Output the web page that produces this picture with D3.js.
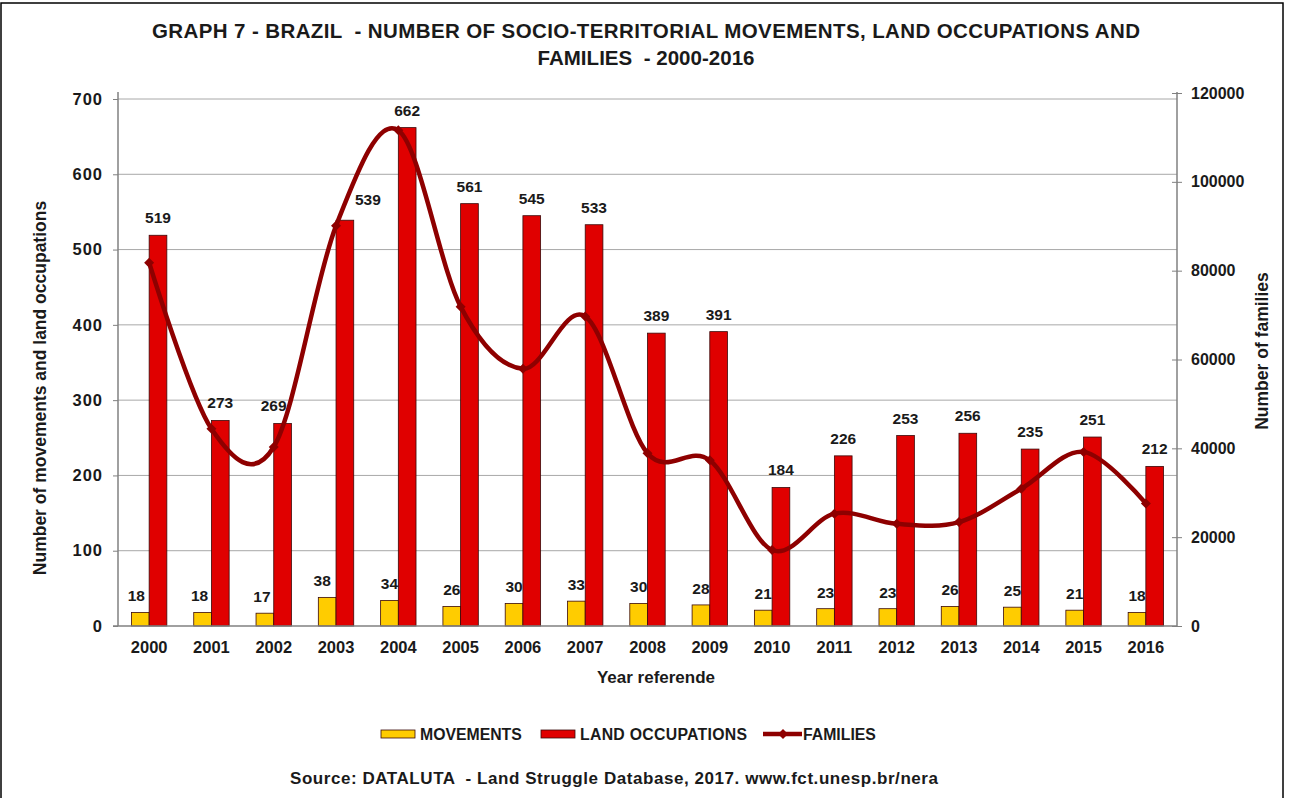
<!DOCTYPE html>
<html>
<head>
<meta charset="utf-8">
<script src="https://cdn.jsdelivr.net/npm/d3@7/dist/d3.min.js"></script>
<style>
  html, body { margin: 0; padding: 0; background: #fff; }
  svg { display: block; }
  text { font-family: "Liberation Sans", Arial, sans-serif; fill: #1a1a1a; white-space: pre; }
</style>
</head>
<body>
<svg id="chart" width="1290" height="798"></svg>
<script>
// Brazil: socio-territorial movements, land occupations and families, 2000-2016
const years = ["2000","2001","2002","2003","2004","2005","2006","2007","2008",
               "2009","2010","2011","2012","2013","2014","2015","2016"];
const movements = [18, 18, 17, 38, 34, 26, 30, 33, 30, 28, 21, 23, 23, 26, 25, 21, 18];
const occupations = [519, 273, 269, 539, 662, 561, 545, 533, 389, 391, 184, 226, 253, 256, 235, 251, 212];
const families = [81800, 44400, 40300, 90100, 111600, 71900, 57900, 69700, 38900,
                  37300, 17100, 25300, 23000, 23400, 30900, 39200, 27600];
const leftTicks = [0, 100, 200, 300, 400, 500, 600, 700];
const rightTicks = [0, 20000, 40000, 60000, 80000, 100000, 120000];
const seriesNames = ["MOVEMENTS", "LAND OCCUPATIONS", "FAMILIES"];

const COLORS = { mov: "#ffcc00", occ: "#e00000", fam: "#8e0000", barEdge: "#3a0a0a" };

const svg = d3.select("#chart");

// frame
svg.append("rect").attr("x", 1).attr("y", 3).attr("width", 1282).attr("height", 800)
  .attr("fill", "none").attr("stroke", "#000").attr("stroke-width", 1.5);

const plot = { left: 118, right: 1177, top: 92, bottom: 626 };

const x = d3.scaleBand().domain(years).range([plot.left, plot.right]).padding(0);
const barW = 17.7;
const sub = d3.scaleBand().domain(["mov", "occ"])
  .range([x.bandwidth() / 2 - barW, x.bandwidth() / 2 + barW]).padding(0);
const yL = d3.scaleLinear().domain([0, 700]).range([plot.bottom, 99]);
const yR = d3.scaleLinear().domain([0, 120000]).range([plot.bottom, 93]);

// gridlines
svg.append("g").selectAll("line").data(leftTicks.filter(d => d > 0)).join("line")
  .attr("x1", plot.left).attr("x2", plot.right)
  .attr("y1", d => yL(d)).attr("y2", d => yL(d))
  .attr("stroke", "#a8a8a8").attr("stroke-width", 1);

// left axis
const axL = svg.append("g").attr("transform", `translate(${plot.left},0)`)
  .call(d3.axisLeft(yL).tickValues(leftTicks).tickSize(5).tickPadding(10).tickSizeOuter(0));
axL.select(".domain").remove();
axL.selectAll(".tick line").attr("stroke", "#808080");
axL.selectAll(".tick text").style("font-size", "16.5px").style("font-weight", "bold")
  .style("letter-spacing", "1px").attr("fill", "#1a1a1a");
svg.append("line").attr("x1", plot.left).attr("x2", plot.left)
  .attr("y1", plot.top).attr("y2", plot.bottom).attr("stroke", "#808080").attr("stroke-width", 1.5);

// right axis
const axR = svg.append("g").attr("transform", `translate(${plot.right},0)`)
  .call(d3.axisRight(yR).tickValues(rightTicks).tickSize(5).tickPadding(9).tickSizeOuter(0)
        .tickFormat(d3.format("d")));
axR.select(".domain").remove();
axR.selectAll(".tick line").attr("x1", -5).attr("stroke", "#808080");
axR.selectAll(".tick text").style("font-size", "16px").style("font-weight", "bold")
  .attr("fill", "#1a1a1a");
svg.append("line").attr("x1", plot.right).attr("x2", plot.right)
  .attr("y1", plot.top).attr("y2", plot.bottom).attr("stroke", "#808080").attr("stroke-width", 1.5);

// bars
const groups = svg.append("g").selectAll("g").data(years).join("g")
  .attr("transform", d => `translate(${x(d)},0)`);

groups.append("rect")
  .attr("x", sub("mov")).attr("width", sub.bandwidth())
  .attr("y", (d, i) => yL(movements[i])).attr("height", (d, i) => yL(0) - yL(movements[i]))
  .attr("fill", COLORS.mov).attr("stroke", COLORS.barEdge).attr("stroke-width", 0.8);

groups.append("rect")
  .attr("x", sub("occ")).attr("width", sub.bandwidth())
  .attr("y", (d, i) => yL(occupations[i])).attr("height", (d, i) => yL(0) - yL(occupations[i]))
  .attr("fill", COLORS.occ).attr("stroke", COLORS.barEdge).attr("stroke-width", 0.8);

// x axis line
svg.append("line").attr("x1", plot.left - 5).attr("x2", plot.right)
  .attr("y1", plot.bottom).attr("y2", plot.bottom).attr("stroke", "#808080").attr("stroke-width", 1.5);

// year labels
svg.append("g").selectAll("text").data(years).join("text")
  .attr("x", d => x(d) + x.bandwidth() / 2).attr("y", 653)
  .attr("text-anchor", "middle").style("font-size", "16.5px").style("font-weight", "bold")
  .text(d => d);

// families line (smoothed)
const famPts = years.map((d, i) => [x(d) + x.bandwidth() / 2, yR(families[i])]);
svg.append("path").datum(famPts)
  .attr("d", d3.line().curve(d3.curveCardinal.tension(0)))
  .attr("fill", "none").attr("stroke", COLORS.fam).attr("stroke-width", 4.5)
  .attr("stroke-linejoin", "round");
const diamond = "M0,-5L5,0L0,5L-5,0Z";
svg.append("g").selectAll("path").data(famPts).join("path")
  .attr("transform", d => `translate(${d[0]},${d[1]})`)
  .attr("d", diamond).attr("fill", COLORS.fam);

// value labels
const occNudge = { "2002": -9, "2003": 23 };
const movNudge = { "2000": -4, "2001": -3, "2002": -3, "2003": -5 };
groups.append("text")
  .attr("x", d => sub("occ") + sub.bandwidth() / 2 + (occNudge[d] || 0))
  .attr("y", (d, i) => yL(occupations[i]) - 12 - (d === "2003" ? 3 : 0))
  .attr("text-anchor", "middle").style("font-size", "15.5px").style("font-weight", "bold")
  .text((d, i) => occupations[i]);
groups.append("text")
  .attr("x", d => sub("mov") + sub.bandwidth() / 2 + (movNudge[d] || 0))
  .attr("y", (d, i) => yL(movements[i]) - 11)
  .attr("text-anchor", "middle").style("font-size", "15.5px").style("font-weight", "bold")
  .text((d, i) => movements[i]);

// titles
const title = svg.append("text").attr("text-anchor", "middle")
  .style("font-size", "20.5px").style("font-weight", "bold");
title.append("tspan").attr("x", 646).attr("y", 38)
  .attr("textLength", 988).attr("lengthAdjust", "spacing")
  .text("GRAPH 7 - BRAZIL  - NUMBER OF SOCIO-TERRITORIAL MOVEMENTS, LAND OCCUPATIONS AND");
title.append("tspan").attr("x", 646).attr("y", 65)
  .attr("textLength", 217).attr("lengthAdjust", "spacing")
  .text("FAMILIES  - 2000-2016");

svg.append("text").attr("x", 656).attr("y", 683).attr("text-anchor", "middle")
  .style("font-size", "17px").style("font-weight", "bold").text("Year referende");

svg.append("text").attr("transform", "translate(46,388) rotate(-90)")
  .attr("text-anchor", "middle").style("font-size", "17.5px").style("font-weight", "bold")
  .text("Number of movements and land occupations");

svg.append("text").attr("transform", "translate(1268,351) rotate(-90)")
  .attr("text-anchor", "middle").style("font-size", "17.5px").style("font-weight", "bold")
  .text("Number of families");

// legend
const leg = svg.append("g");
const legY = 734;
leg.append("rect").attr("x", 381).attr("y", legY - 4).attr("width", 34).attr("height", 8)
  .attr("fill", COLORS.mov).attr("stroke", COLORS.barEdge).attr("stroke-width", 0.8);
leg.append("text").attr("x", 420).attr("y", legY + 5.5).style("font-size", "15.8px")
  .style("font-weight", "bold").text(seriesNames[0]);
leg.append("rect").attr("x", 541).attr("y", legY - 4).attr("width", 34).attr("height", 8)
  .attr("fill", COLORS.occ).attr("stroke", COLORS.barEdge).attr("stroke-width", 0.8);
leg.append("text").attr("x", 580).attr("y", legY + 5.5).style("font-size", "15.8px")
  .style("font-weight", "bold").attr("textLength", 167).attr("lengthAdjust", "spacing")
  .text(seriesNames[1]);
leg.append("line").attr("x1", 763).attr("x2", 802).attr("y1", legY).attr("y2", legY)
  .attr("stroke", COLORS.fam).attr("stroke-width", 4.5);
leg.append("path").attr("transform", `translate(783,${legY})`).attr("d", diamond)
  .attr("fill", COLORS.fam);
leg.append("text").attr("x", 803).attr("y", legY + 5.5).style("font-size", "15.8px")
  .style("font-weight", "bold").text(seriesNames[2]);

// source
svg.append("text").attr("x", 614).attr("y", 784).attr("text-anchor", "middle")
  .style("font-size", "17px").style("font-weight", "bold")
  .attr("textLength", 648).attr("lengthAdjust", "spacing")
  .text("Source: DATALUTA  - Land Struggle Database, 2017. www.fct.unesp.br/nera");
</script>
</body>
</html>
